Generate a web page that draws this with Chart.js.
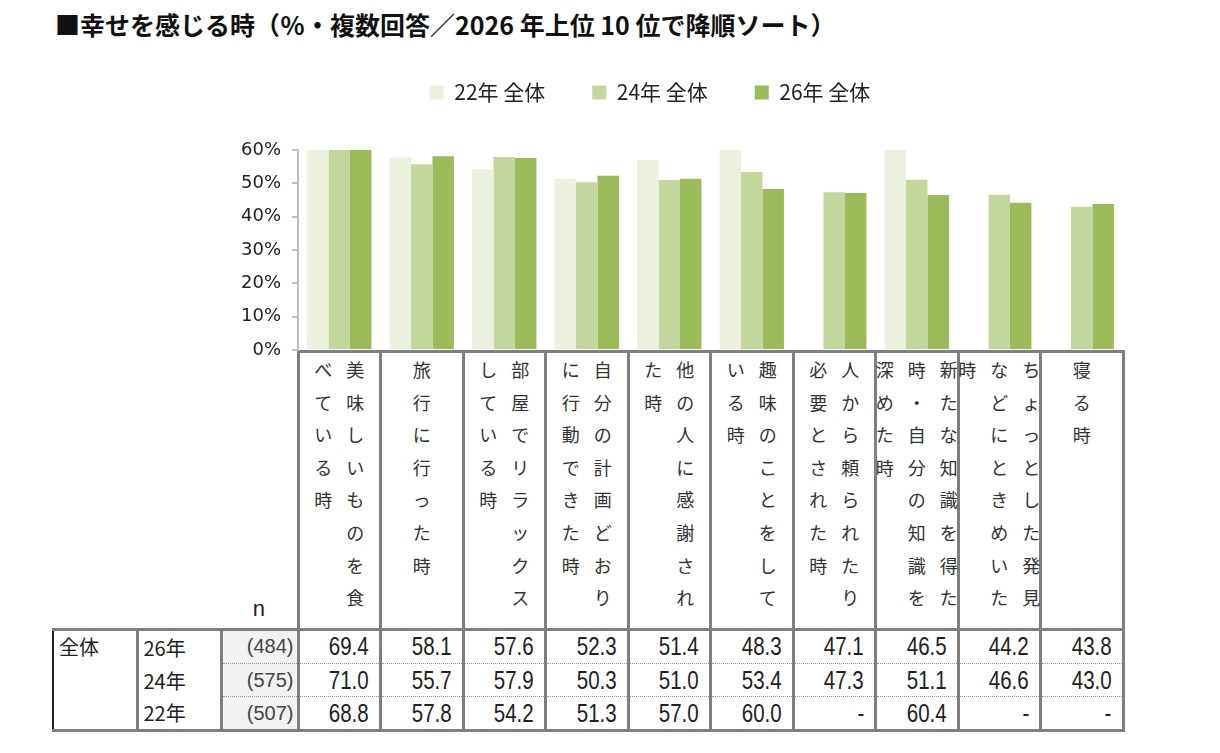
<!DOCTYPE html>
<html lang="ja">
<head>
<meta charset="utf-8">
<script src="https://cdn.jsdelivr.net/npm/chart.js@4.4.1/dist/chart.umd.min.js"></script>
<style>
  body { margin: 0; background: #fff; width: 1220px; height: 753px; position: relative; overflow: hidden;
         font-family: "Noto Sans CJK JP", sans-serif; color: #222; }
  #title { position: absolute; left: 55px; top: 9px; font-size: 25px; line-height: 30px; font-weight: bold; white-space: nowrap; color: #111; }
  #chartBox { position: absolute; left: 0; top: 0; width: 1220px; height: 372px; z-index: 2; }
  #tbl { position: absolute; left: 52px; top: 350px; border-collapse: collapse; table-layout: fixed; }
  #tbl td { padding: 0; }
  .head td.lab { border: 3px solid #7f7f7f; vertical-align: top; position: relative; }
  .head td.blank { border-bottom: 3px solid #7f7f7f; }
  .head td.nHead { border-bottom: 3px solid #7f7f7f; text-align: center; vertical-align: bottom; font-size: 22px; line-height: 26px;
                   padding-bottom: 6px !important; font-family: "Liberation Sans", sans-serif; }
  .cols { position: absolute; left: 0; right: 0; top: 0; display: flex; flex-direction: row-reverse; justify-content: center; }
  .cols div { width: 32px; flex: none; }
  .cols span { display: block; height: 32.6px; line-height: 32.6px; text-align: center; font-size: 18px; color: #333; }
  td.grp { border: 3px solid #7f7f7f; border-left: 2px solid #222; vertical-align: top; font-size: 20px; padding: 1px 0 0 5px !important; }
  td.yr { border-left: 3px solid #7f7f7f; border-right: 3px solid #7f7f7f; font-size: 20px; padding-left: 5px !important; }
  td.n { background: #f2f2f2; border-right: 3px solid #7f7f7f; text-align: right; padding-right: 3px !important;
         font-family: "Liberation Sans", sans-serif; font-size: 20px; color: #444; }
  td.v { border-left: 3px solid #7f7f7f; border-right: 3px solid #7f7f7f; text-align: right; padding-right: 10px !important;
         font-family: "Liberation Sans", sans-serif; font-size: 25px; color: #222; }
  td.v span { display: inline-block; transform: scaleX(0.82); transform-origin: right center; }
  tr.sub td.n, tr.sub td.v { border-top: 1px dotted #999; }
  tr.last td { border-bottom: 3px solid #7f7f7f; }
</style>
</head>
<body>
<div id="title">■幸せを感じる時（％・複数回答／2026 年上位 10 位で降順ソート）</div>
<div id="chartBox"><canvas id="happyChart"></canvas></div>
<table id="tbl"></table>
<script>
const categories = [
  '美味しいものを食べている時',
  '旅行に行った時',
  '部屋でリラックスしている時',
  '自分の計画どおりに行動できた時',
  '他の人に感謝された時',
  '趣味のことをしている時',
  '人から頼られたり必要とされた時',
  '新たな知識を得た時・自分の知識を深めた時',
  'ちょっとした発見などにときめいた時',
  '寝る時'
];
const seriesLabels = ['22年 全体', '24年 全体', '26年 全体'];
const seriesColors = ['#ebf1de', '#c3d69b', '#9bbb59'];
const values22 = [68.8, 57.8, 54.2, 51.3, 57.0, 60.0, null, 60.4, null, null];
const values24 = [71.0, 55.7, 57.9, 50.3, 51.0, 53.4, 47.3, 51.1, 46.6, 43.0];
const values26 = [69.4, 58.1, 57.6, 52.3, 51.4, 48.3, 47.1, 46.5, 44.2, 43.8];
const rowGroup = '全体';
const rowYears = ['26年', '24年', '22年'];
const rowSizes = [484, 575, 507];
const yMax = 60;
const yStep = 10;

// table under the chart
const tbl = document.getElementById('tbl');
let html = '<colgroup><col style="width:84px"><col style="width:84px"><col style="width:77px">';
categories.forEach(() => html += '<col style="width:82.5px">');
html += '</colgroup>';

html += '<tr class="head" style="height:278px"><td class="blank"></td><td class="blank"></td><td class="nHead">n</td>';
categories.forEach(c => {
  const chars = Array.from(c);
  let cols = '';
  for (let i = 0; i < chars.length; i += 8) {
    cols += '<div>' + chars.slice(i, i + 8).map(ch => '<span>' + ch + '</span>').join('') + '</div>';
  }
  html += '<td class="lab"><div class="cols">' + cols + '</div></td>';
});
html += '</tr>';

const rows = [values26, values24, values22];
rows.forEach((vals, r) => {
  let cls = r > 0 ? 'sub' : '';
  if (r === rows.length - 1) cls += ' last';
  html += '<tr class="' + cls + '" style="height:33.7px">';
  if (r === 0) html += '<td class="grp" rowspan="3">' + rowGroup + '</td>';
  html += '<td class="yr">' + rowYears[r] + '</td>';
  html += '<td class="n">(' + rowSizes[r] + ')</td>';
  vals.forEach(v => {
    html += '<td class="v"><span>' + (v === null ? '-' : v.toFixed(1)) + '</span></td>';
  });
  html += '</tr>';
});
tbl.innerHTML = html;

// extra space between legend and plot
const legendGap = {
  id: 'legendGap',
  beforeInit(chart) {
    const fit = chart.legend.fit;
    chart.legend.fit = function () {
      fit.bind(chart.legend)();
      this.height += 37;
    };
  }
};

// bar chart
const ctx = document.getElementById('happyChart');
new Chart(ctx, {
  type: 'bar',
  data: {
    labels: categories,
    datasets: [values22, values24, values26].map((d, i) => ({
      label: seriesLabels[i],
      data: d,
      backgroundColor: seriesColors[i],
      borderWidth: 0
    }))
  },
  options: {
    responsive: true,
    maintainAspectRatio: false,
    animation: false,
    layout: { padding: { left: 177, right: 97, top: 35, bottom: 22 } },
    datasets: { bar: { categoryPercentage: 0.78, barPercentage: 1.0 } },
    plugins: {
      legend: {
        position: 'top',
        labels: {
          boxWidth: 14,
          boxHeight: 14,
          padding: 47,
          color: '#222',
          font: { family: '"Noto Sans CJK JP", sans-serif', size: 21 }
        }
      },
      tooltip: { enabled: false }
    },
    scales: {
      x: { display: false },
      y: {
        min: 0,
        max: yMax,
        ticks: {
          stepSize: yStep,
          padding: 11,
          color: '#222',
          font: { family: '"DejaVu Sans", sans-serif', size: 18 },
          callback: v => v + '%'
        },
        grid: { drawOnChartArea: false, drawTicks: true, tickLength: 6, color: '#bfbfbf', lineWidth: 2 },
        border: { color: '#bfbfbf', width: 2 },
        afterFit: s => { s.width = 121; }
      }
    }
  },
  plugins: [legendGap]
});
</script>
</body>
</html>
